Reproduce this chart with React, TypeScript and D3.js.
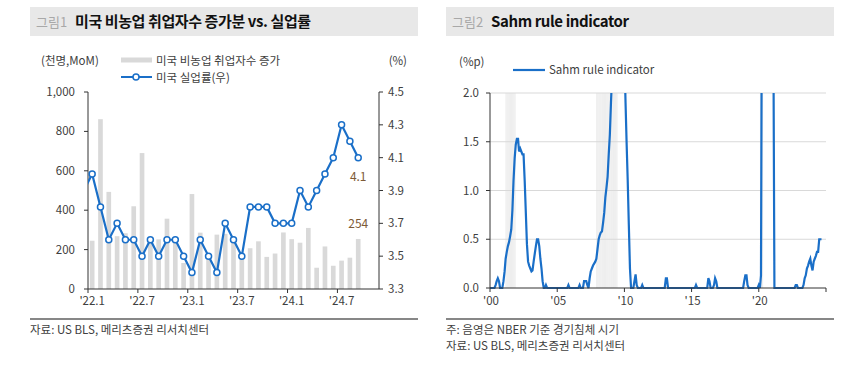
import React from 'react';
import * as d3 from 'd3';

// ---- 그림1 data ----
const months = [
  '2022-01', '2022-02', '2022-03', '2022-04', '2022-05', '2022-06', '2022-07', '2022-08', '2022-09', '2022-10', '2022-11', '2022-12',
  '2023-01', '2023-02', '2023-03', '2023-04', '2023-05', '2023-06', '2023-07', '2023-08', '2023-09', '2023-10', '2023-11', '2023-12',
  '2024-01', '2024-02', '2024-03', '2024-04', '2024-05', '2024-06', '2024-07', '2024-08', '2024-09',
];
// 미국 비농업 취업자수 증가 (천명, MoM)
const payrolls = [
  245, 862, 493, 268, 283, 420, 690, 250, 252, 357, 245, 132,
  482, 286, 150, 276, 280, 240, 165, 207, 242, 163, 180, 287,
  253, 235, 310, 108, 216, 118, 144, 159, 254,
];
// 미국 실업률 (%)
const unemployment = [
  4.0, 3.8, 3.6, 3.7, 3.6, 3.6, 3.5, 3.6, 3.5, 3.6, 3.6, 3.5,
  3.4, 3.6, 3.5, 3.4, 3.7, 3.6, 3.5, 3.8, 3.8, 3.8, 3.7, 3.7,
  3.7, 3.9, 3.8, 3.9, 4.0, 4.1, 4.3, 4.2, 4.1,
];
const prevUnemployment = 3.9; // 2021-12, only the clipped stub at the left edge
const slotCount = 35; // category slots on the x axis (two empty at the end)
const monthTickIdx = [0, 6, 12, 18, 24, 30];
const monthTickLabels = ["'22.1", "'22.7", "'23.1", "'23.7", "'24.1", "'24.7"];
const leftTicks = [0, 200, 400, 600, 800, 1000];
const rightTicks = [3.3, 3.5, 3.7, 3.9, 4.1, 4.3, 4.5];

// ---- 그림2 data: Sahm rule indicator, monthly from 2000-01 ----
const sahmStart = '2000-01';
const sahm = [
  /* 2000 */ 0, 0, 0, 0, 0, 0.03, 0.07, 0.1, 0.07, 0, 0, 0,
  /* 2001 */ 0.07, 0.17, 0.3, 0.37, 0.43, 0.47, 0.53, 0.6, 0.8, 1.1, 1.33, 1.47,
  /* 2002 */ 1.53, 1.53, 1.4, 1.43, 1.4, 1.37, 1.37, 1.1, 0.77, 0.45, 0.27, 0.23,
  /* 2003 */ 0.2, 0.17, 0.18, 0.27, 0.35, 0.43, 0.5, 0.5, 0.43, 0.3, 0.2, 0.07,
  /* 2004 */ 0, 0, 0.03, 0, 0, 0, 0, 0, 0, 0, 0, 0,
  /* 2005 */ 0, 0, 0, 0, 0, 0, 0, 0, 0, 0, 0.03, 0,
  /* 2006 */ 0, 0, 0, 0, 0, 0, 0, 0, 0.03, 0, 0, 0,
  /* 2007 */ 0.07, 0.07, 0.07, 0.03, 0, 0.1, 0.17, 0.2, 0.23, 0.25, 0.27, 0.3,
  /* 2008 */ 0.4, 0.5, 0.54, 0.57, 0.58, 0.67, 0.77, 0.93, 1.03, 1.14, 1.37, 1.57,
  /* 2009 */ 1.9, 2.2, 2.6, 3.0, 3.4, 3.6, 3.7, 3.7, 3.7, 3.6, 3.4, 3.0,
  /* 2010 */ 2.4, 1.9, 1.5, 1.1, 0.65, 0.2, 0, 0, 0, 0.07, 0.14, 0.03,
  /* 2011 */ 0, 0, 0, 0, 0.03, 0, 0, 0, 0, 0, 0, 0,
  /* 2012 */ 0, 0, 0, 0, 0, 0, 0, 0, 0, 0, 0, 0,
  /* 2013 */ 0, 0.1, 0.1, 0, 0, 0, 0, 0, 0, 0, 0, 0,
  /* 2014 */ 0, 0, 0, 0, 0, 0, 0, 0, 0, 0, 0, 0,
  /* 2015 */ 0, 0, 0, 0, 0.03, 0, 0, 0, 0, 0, 0, 0,
  /* 2016 */ 0, 0, 0, 0.1, 0.07, 0, 0, 0, 0.03, 0.1, 0.07, 0,
  /* 2017 */ 0, 0, 0, 0, 0, 0, 0, 0, 0, 0, 0, 0,
  /* 2018 */ 0, 0, 0, 0, 0, 0, 0, 0, 0, 0, 0, 0.07,
  /* 2019 */ 0.13, 0.13, 0.03, 0, 0, 0, 0, 0, 0, 0, 0, 0,
  /* 2020 */ 0.03, 0, 0.13, 3.9, 6.6, 9.0, 9.0, 8.4, 7.0, 5.5, 4.4, 3.7,
  /* 2021 */ 3.1, 2.6, 0, 0, 0, 0, 0, 0, 0, 0, 0, 0,
  /* 2022 */ 0, 0, 0, 0, 0, 0, 0, 0, 0, 0.03, 0.03, 0,
  /* 2023 */ 0, 0, 0, 0, 0.03, 0.1, 0.13, 0.2, 0.23, 0.27, 0.3, 0.23,
  /* 2024 */ 0.18, 0.27, 0.3, 0.33, 0.37, 0.37, 0.5, 0.5, 0.5,
];
const recessions = [
  ['2001-03', '2001-11'],
  ['2007-12', '2009-06'],
  ['2020-02', '2020-04'],
];
const sahmYTicks = [0, 0.5, 1.0, 1.5, 2.0];
const sahmXTickYears = [2000, 2005, 2010, 2015, 2020, 2025];
const sahmXTickLabels = ["'00", "'05", "'10", "'15", "'20", ''];

const FONT = "'Noto Sans CJK KR', 'Noto Sans', sans-serif";
const BLUE = '#1a6fc8';
const AXIS = '#333';
const TXT = '#404040';
const NOTE = '#7d5a36';

const parseMonth = d3.timeParse('%Y-%m');

function TitleBar({ x, w, tag, title }: { x: number; w: number; tag: string; title: string }) {
  return (
    <g>
      <rect x={x} y={7} width={w} height={29} fill="#e8e8e8" />
      <text x={x + 6} y={27} fontSize={13} fill="#a8a8a8" fontFamily={FONT}>{tag}</text>
      <text x={x + 45} y={27} fontSize={15} fontWeight={700} fill="#111" fontFamily={FONT} letterSpacing={-0.4}>{title}</text>
    </g>
  );
}

function LeftChart() {
  const x0 = 88, x1 = 379, yTop = 92, yBot = 289;
  const x = d3.scaleLinear().domain([0, slotCount]).range([x0, x1]);
  const yL = d3.scaleLinear().domain([0, 1000]).range([yBot, yTop]);
  const yR = d3.scaleLinear().domain([3.3, 4.5]).range([yBot, yTop]);
  const bw = (x(1) - x(0)) * 0.56;
  const line = d3.line<number>().x((_, i) => x(i + 0.5)).y((d) => yR(d));
  const stub = d3.line<[number, number]>().x((d) => x(d[0])).y((d) => yR(d[1]));
  const last = unemployment.length - 1;

  return (
    <g fontFamily={FONT}>
      <defs>
        <clipPath id="leftClip">
          <rect x={x0} y={yTop - 5} width={x1 - x0} height={yBot - yTop + 10} />
        </clipPath>
      </defs>

      {/* legend */}
      <text x={41} y={65} fontSize={11.5} fill={TXT}>(천명,MoM)</text>
      <text x={407} y={65} fontSize={11.5} fill={TXT} textAnchor="end">(%)</text>
      <rect x={121} y={57.5} width={31} height={5} fill="#d9d9d9" />
      <text x={156} y={64.5} fontSize={11.5} fill={TXT}>미국 비농업 취업자수 증가</text>
      <line x1={121} x2={152} y1={77} y2={77} stroke={BLUE} strokeWidth={2} />
      <circle cx={136} cy={77} r={3} fill="#fff" stroke={BLUE} strokeWidth={1.5} />
      <text x={156} y={81.5} fontSize={11.5} fill={TXT}>미국 실업률(우)</text>

      {/* bars */}
      {payrolls.map((v, i) => (
        <rect key={months[i]} x={x(i + 0.5) - bw / 2} y={yL(v)} width={bw} height={yBot - yL(v)} fill="#d9d9d9" />
      ))}

      {/* axes */}
      <line x1={x0} x2={x0} y1={yTop} y2={yBot} stroke={AXIS} />
      <line x1={x1} x2={x1} y1={yTop} y2={yBot} stroke={AXIS} />
      <line x1={x0} x2={x1} y1={yBot} y2={yBot} stroke={AXIS} />
      {leftTicks.map((t) => (
        <g key={t}>
          <line x1={x0 - 4} x2={x0} y1={yL(t)} y2={yL(t)} stroke={AXIS} />
          <text x={75} y={yL(t) + 4} fontSize={11.5} fill={TXT} textAnchor="end">{d3.format(',')(t)}</text>
        </g>
      ))}
      {rightTicks.map((t) => (
        <g key={t}>
          <line x1={x1} x2={x1 + 4} y1={yR(t)} y2={yR(t)} stroke={AXIS} />
          <text x={388} y={yR(t) + 4} fontSize={11.5} fill={TXT}>{t.toFixed(1)}</text>
        </g>
      ))}
      {monthTickIdx.map((t, k) => (
        <g key={t}>
          <line x1={x(t)} x2={x(t)} y1={yBot} y2={yBot + 4} stroke={AXIS} />
          <text x={x(t + 0.5)} y={305} fontSize={11.5} fill={TXT} textAnchor="middle">{monthTickLabels[k]}</text>
        </g>
      ))}

      {/* unemployment line */}
      <path
        d={stub([[-0.5, prevUnemployment], [0.5, unemployment[0]]]) || ''}
        fill="none" stroke={BLUE} strokeWidth={2.2} clipPath="url(#leftClip)"
      />
      <path d={line(unemployment) || ''} fill="none" stroke={BLUE} strokeWidth={2.2} />
      {unemployment.map((v, i) => (
        <circle key={months[i]} cx={x(i + 0.5)} cy={yR(v)} r={3} fill="#fff" stroke={BLUE} strokeWidth={1.5} />
      ))}

      {/* annotations */}
      <text x={x(last + 0.5)} y={yR(unemployment[last]) + 23} fontSize={12} fill={NOTE} textAnchor="middle">
        {unemployment[last].toFixed(1)}
      </text>
      <text x={x(last + 0.5)} y={yL(payrolls[last]) - 11} fontSize={12} fill={NOTE} textAnchor="middle">
        {payrolls[last]}
      </text>

      {/* source */}
      <line x1={30} x2={418} y1={319} y2={319} stroke="#111" strokeWidth={1.2} />
      <text x={30} y={334} fontSize={11.5} fill={TXT}>자료: US BLS, 메리츠증권 리서치센터</text>
    </g>
  );
}

function RightChart() {
  const x0 = 490, x1 = 826, yTop = 93, yBot = 288;
  const x = d3.scaleTime().domain([new Date(2000, 0, 1), new Date(2025, 0, 1)]).range([x0, x1]);
  const y = d3.scaleLinear().domain([0, 2]).range([yBot, yTop]);
  const start = parseMonth(sahmStart) as Date;
  const pts = sahm.map((v, i) => ({ date: d3.timeMonth.offset(start, i), v }));
  const line = d3.line<{ date: Date; v: number }>().x((d) => x(d.date)).y((d) => y(d.v));

  return (
    <g fontFamily={FONT}>
      <defs>
        <clipPath id="rightClip">
          <rect x={x0} y={yTop} width={x1 - x0} height={yBot - yTop + 5} />
        </clipPath>
      </defs>

      <text x={459} y={66} fontSize={11.5} fill={TXT}>(%p)</text>
      <line x1={513} x2={545} y1={70} y2={70} stroke={BLUE} strokeWidth={2.2} />
      <text x={549} y={74} fontSize={11.5} fill={TXT}>Sahm rule indicator</text>

      {/* recession shading */}
      {recessions.map(([s, e]) => {
        const a = parseMonth(s) as Date;
        const b = d3.timeMonth.offset(parseMonth(e) as Date, 1);
        const ms = d3.timeMonth.range(a, b);
        return (
          <g key={s}>
            <rect x={x(a)} y={yTop} width={x(b) - x(a)} height={yBot - yTop} fill="#f5f5f5" />
            {ms.map((m) => (
              <rect key={+m} x={x(m)} y={yTop} width={(x(d3.timeMonth.offset(m, 1)) - x(m)) * 0.55} height={yBot - yTop} fill="#ebebeb" />
            ))}
          </g>
        );
      })}

      {/* grid */}
      {sahmYTicks.filter((t) => t > 0).map((t) => (
        <line key={t} x1={x0} x2={x1} y1={y(t)} y2={y(t)} stroke="#d9d9d9" strokeWidth={1} />
      ))}

      <path d={line(pts) || ''} fill="none" stroke={BLUE} strokeWidth={2.2} clipPath="url(#rightClip)" />

      {/* axes */}
      <line x1={x0} x2={x0} y1={yTop} y2={yBot} stroke={AXIS} />
      <line x1={x0} x2={x1} y1={yBot} y2={yBot} stroke={AXIS} />
      {sahmYTicks.map((t) => (
        <g key={t}>
          <line x1={x0 - 4} x2={x0} y1={y(t)} y2={y(t)} stroke={AXIS} />
          <text x={479} y={y(t) + 4} fontSize={11.5} fill={TXT} textAnchor="end">{t.toFixed(1)}</text>
        </g>
      ))}
      {sahmXTickYears.map((yr, k) => (
        <g key={yr}>
          <line x1={x(new Date(yr, 0, 1))} x2={x(new Date(yr, 0, 1))} y1={yBot} y2={yBot + 4} stroke={AXIS} />
          <text x={x(new Date(yr, 0, 1)) + 1} y={305} fontSize={11.5} fill={TXT} textAnchor="middle">{sahmXTickLabels[k]}</text>
        </g>
      ))}

      <line x1={446} x2={834} y1={319} y2={319} stroke="#111" strokeWidth={1.2} />
      <text x={446} y={334} fontSize={11.5} fill={TXT}>주: 음영은 NBER 기준 경기침체 시기</text>
      <text x={446} y={350} fontSize={11.5} fill={TXT}>자료: US BLS, 메리츠증권 리서치센터</text>
    </g>
  );
}

export default function App() {
  return (
    <svg width={864} height={365} viewBox="0 0 864 365" style={{ position: 'absolute', left: 0, top: 0, background: '#fff' }}>
      <rect width={864} height={365} fill="#fff" />
      <TitleBar x={30} w={388} tag="그림1" title="미국 비농업 취업자수 증가분 vs. 실업률" />
      <TitleBar x={446} w={388} tag="그림2" title="Sahm rule indicator" />
      <LeftChart />
      <RightChart />
    </svg>
  );
}
